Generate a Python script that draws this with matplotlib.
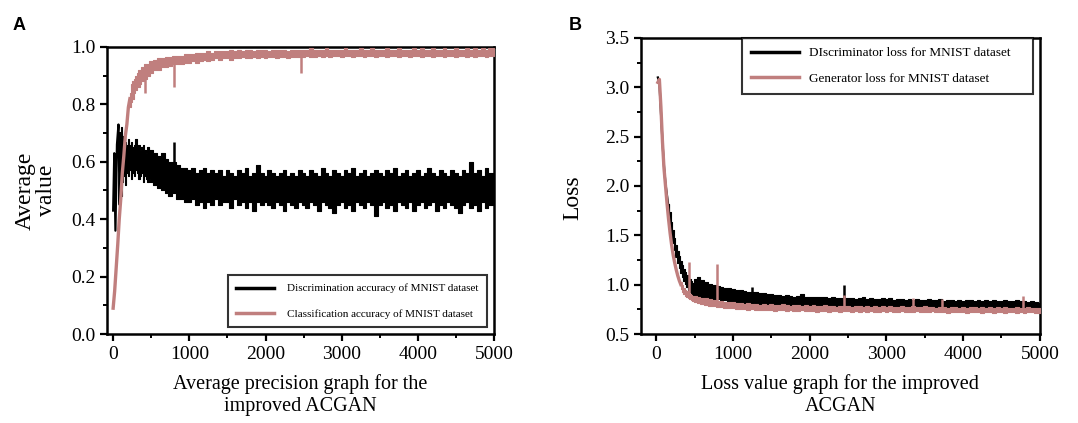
import numpy as np
import matplotlib
matplotlib.use("Agg")
import matplotlib.pyplot as plt
from matplotlib.ticker import MultipleLocator

plt.rcParams['font.family'] = ['Liberation Serif', 'DejaVu Serif']

# Each noisy curve is stored as an early line (x, y), a noise band
# (bin centres, upper edge, lower edge) and a few single spikes,
# all read off the figure.
late_bins = np.arange(500, 5001, 50)

# ---- Panel A: discrimination accuracy (black)
disc_acc_x = [0, 15, 30, 50, 70, 85, 100]
disc_acc_y = [0.43, 0.63, 0.36, 0.66, 0.73, 0.45, 0.70]
disc_acc_bx = np.concatenate([np.arange(100, 500, 20), late_bins])
disc_acc_hi = [
    0.72, 0.66, 0.69, 0.67, 0.66, 0.68, 0.66, 0.67, 0.65, 0.66,
    0.68, 0.65, 0.66, 0.64, 0.65, 0.66, 0.64, 0.63, 0.65, 0.64,
    0.64, 0.63, 0.62, 0.63, 0.61, 0.60, 0.60, 0.59, 0.58, 0.58,
    0.57, 0.58, 0.56, 0.57, 0.58, 0.56, 0.57, 0.56, 0.57, 0.55,
    0.57, 0.56, 0.55, 0.57, 0.56, 0.58, 0.55, 0.56, 0.59, 0.56,
    0.55, 0.57, 0.56, 0.55, 0.56, 0.57, 0.55, 0.56, 0.55, 0.57,
    0.56, 0.55, 0.57, 0.56, 0.55, 0.58, 0.56, 0.55, 0.57, 0.56,
    0.55, 0.57, 0.56, 0.58, 0.55, 0.56, 0.57, 0.55, 0.56, 0.57,
    0.56, 0.55, 0.57, 0.56, 0.58, 0.55, 0.56, 0.57, 0.55, 0.56,
    0.57, 0.55, 0.56, 0.58, 0.56, 0.55, 0.57, 0.56, 0.55, 0.57,
    0.56, 0.55, 0.57, 0.56, 0.60, 0.56, 0.57, 0.55, 0.58, 0.56,
    0.56,
]
disc_acc_lo = [
    0.48, 0.53, 0.55, 0.52, 0.56, 0.55, 0.57, 0.54, 0.56, 0.55,
    0.57, 0.56, 0.54, 0.55, 0.56, 0.53, 0.55, 0.54, 0.53, 0.54,
    0.53, 0.52, 0.51, 0.50, 0.49, 0.48, 0.49, 0.47, 0.47, 0.46,
    0.46, 0.47, 0.45, 0.46, 0.44, 0.46, 0.45, 0.47, 0.45, 0.46,
    0.46, 0.44, 0.47, 0.45, 0.46, 0.44, 0.46, 0.43, 0.46, 0.45,
    0.46, 0.45, 0.44, 0.46, 0.45, 0.43, 0.46, 0.45, 0.44, 0.46,
    0.45, 0.44, 0.46, 0.45, 0.43, 0.46, 0.45, 0.44, 0.42, 0.45,
    0.46, 0.44, 0.45, 0.43, 0.46, 0.45, 0.44, 0.46, 0.45, 0.41,
    0.45, 0.46, 0.44, 0.45, 0.43, 0.46, 0.45, 0.44, 0.46, 0.43,
    0.45, 0.46, 0.44, 0.45, 0.46, 0.43, 0.45, 0.44, 0.46, 0.45,
    0.44, 0.42, 0.45, 0.46, 0.44, 0.45, 0.43, 0.46, 0.44, 0.45,
    0.45,
]
disc_acc_spike_x = [800]
disc_acc_spike_base = [0.59]
disc_acc_spike_tip = [0.67]

# ---- Panel A: classification accuracy (pink)
class_acc_x = [0, 20, 40, 60, 80, 100, 120, 140, 160, 180, 200, 220]
class_acc_y = [0.09, 0.15, 0.23, 0.31, 0.40, 0.47, 0.56, 0.62, 0.69, 0.73,
               0.79, 0.82]
class_acc_bx = np.concatenate([np.arange(220, 500, 20), late_bins])
class_acc_hi = [
    0.84, 0.87, 0.88, 0.89, 0.90, 0.91, 0.92, 0.92, 0.93, 0.93,
    0.94, 0.94, 0.94, 0.95,
    0.95, 0.955, 0.96, 0.96, 0.965, 0.965, 0.97, 0.97, 0.97, 0.975,
    0.975, 0.975, 0.98, 0.98, 0.98, 0.985, 0.98, 0.985, 0.985, 0.985,
    0.985, 0.99, 0.985, 0.99, 0.985, 0.99, 0.99, 0.985, 0.99, 0.99,
    0.99, 0.985, 0.99, 0.99, 0.99, 0.99, 0.985, 0.99, 0.99, 0.99,
    0.99, 0.99, 0.995, 0.99, 0.99, 0.99, 0.995, 0.99, 0.99, 0.99,
    0.99, 0.995, 0.99, 0.99, 0.99, 0.995, 0.99, 0.99, 0.995, 0.99,
    0.99, 0.99, 0.995, 0.99, 0.99, 0.995, 0.99, 0.99, 0.99, 0.995,
    0.99, 0.995, 0.99, 0.99, 0.995, 0.99, 0.99, 0.995, 0.99, 0.99,
    0.995, 0.99, 0.99, 0.995, 0.99, 0.995, 0.99, 0.995, 0.99, 0.995,
    0.995,
]
class_acc_lo = [
    0.79, 0.81, 0.82, 0.84, 0.85, 0.86, 0.86, 0.87, 0.88, 0.88,
    0.89, 0.89, 0.90, 0.90,
    0.91, 0.92, 0.92, 0.93, 0.93, 0.935, 0.94, 0.94, 0.94, 0.945,
    0.945, 0.95, 0.945, 0.95, 0.955, 0.95, 0.955, 0.96, 0.955, 0.96,
    0.96, 0.955, 0.96, 0.96, 0.965, 0.96, 0.96, 0.965, 0.96, 0.965,
    0.96, 0.965, 0.965, 0.96, 0.965, 0.965, 0.96, 0.965, 0.965, 0.965,
    0.965, 0.97, 0.965, 0.965, 0.97, 0.965, 0.97, 0.965, 0.97, 0.97,
    0.965, 0.97, 0.97, 0.965, 0.97, 0.97, 0.965, 0.97, 0.97, 0.965,
    0.97, 0.97, 0.965, 0.97, 0.97, 0.965, 0.97, 0.97, 0.965, 0.97,
    0.97, 0.965, 0.97, 0.97, 0.965, 0.97, 0.97, 0.965, 0.97, 0.97,
    0.965, 0.97, 0.97, 0.965, 0.97, 0.965, 0.97, 0.97, 0.965, 0.97,
    0.97,
]
class_acc_spike_x = [420, 800, 2470]
class_acc_spike_base = [0.90, 0.95, 0.97]
class_acc_spike_tip = [0.84, 0.86, 0.91]

# ---- Panel B: discriminator loss (black)
disc_loss_x = [20, 40, 60, 80, 100, 120, 140, 160]
disc_loss_y = [3.10, 3.05, 2.75, 2.45, 2.20, 2.02, 1.90, 1.78]
disc_loss_bx = np.concatenate([np.arange(160, 500, 20), late_bins])
disc_loss_hi = [
    1.82, 1.74, 1.64, 1.55, 1.47, 1.40, 1.34, 1.29, 1.24, 1.20,
    1.16, 1.13, 1.10, 1.08, 1.06, 1.04, 1.02,
    1.06, 1.08, 1.05, 1.03, 1.01, 1.00, 0.99, 0.98, 0.97, 0.97,
    0.96, 0.95, 0.95, 0.94, 0.93, 0.93, 0.93, 0.92, 0.92, 0.91,
    0.91, 0.90, 0.90, 0.89, 0.90, 0.89, 0.88, 0.89, 0.91, 0.88,
    0.88, 0.87, 0.88, 0.87, 0.87, 0.86, 0.87, 0.86, 0.86, 0.86,
    0.86, 0.86, 0.85, 0.86, 0.87, 0.85, 0.86, 0.85, 0.85, 0.86,
    0.85, 0.86, 0.84, 0.85, 0.85, 0.84, 0.85, 0.84, 0.85, 0.84,
    0.84, 0.85, 0.84, 0.84, 0.85, 0.83, 0.84, 0.84, 0.83, 0.84,
    0.83, 0.84, 0.84, 0.83, 0.84, 0.83, 0.84, 0.83, 0.84, 0.83,
    0.83, 0.84, 0.83, 0.83, 0.84, 0.83, 0.83, 0.82, 0.83, 0.82,
    0.81,
]
disc_loss_lo = [
    1.72, 1.60, 1.50, 1.42, 1.35, 1.28, 1.22, 1.17, 1.12, 1.08,
    1.04, 1.01, 0.98, 0.95, 0.93, 0.92, 0.90,
    0.90, 0.89, 0.88, 0.87, 0.86, 0.85, 0.85, 0.84, 0.84, 0.83,
    0.83, 0.82, 0.82, 0.81, 0.81, 0.81, 0.80, 0.80, 0.80, 0.79,
    0.79, 0.79, 0.79, 0.78, 0.78, 0.78, 0.78, 0.78, 0.77, 0.77,
    0.78, 0.77, 0.77, 0.77, 0.77, 0.77, 0.77, 0.76, 0.77, 0.77,
    0.76, 0.77, 0.76, 0.77, 0.76, 0.76, 0.77, 0.76, 0.76, 0.77,
    0.76, 0.76, 0.77, 0.76, 0.76, 0.76, 0.77, 0.76, 0.76, 0.76,
    0.76, 0.76, 0.75, 0.76, 0.76, 0.76, 0.75, 0.76, 0.76, 0.75,
    0.76, 0.75, 0.76, 0.76, 0.75, 0.76, 0.75, 0.76, 0.75, 0.76,
    0.75, 0.76, 0.75, 0.75, 0.76, 0.75, 0.75, 0.75, 0.76, 0.75,
    0.75,
]
disc_loss_spike_x = [1250, 2450]
disc_loss_spike_base = [0.92, 0.86]
disc_loss_spike_tip = [0.98, 1.00]

# ---- Panel B: generator loss (pink)
gen_loss_x = [20, 40, 60, 80, 100, 120, 140, 160, 180, 200, 220, 240, 260,
              280, 300, 320]
gen_loss_y = [3.05, 3.08, 2.80, 2.45, 2.18, 2.00, 1.82, 1.66, 1.52, 1.40,
              1.30, 1.22, 1.15, 1.09, 1.04, 1.00]
gen_loss_bx = np.concatenate([np.arange(320, 500, 20), late_bins])
gen_loss_hi = [
    1.03, 1.00, 0.97, 0.95, 0.94, 0.92, 0.91, 0.90, 0.89,
    0.89, 0.87, 0.86, 0.86, 0.85, 0.84, 0.83, 0.83, 0.82, 0.82,
    0.82, 0.81, 0.81, 0.80, 0.81, 0.80, 0.80, 0.79, 0.80, 0.79,
    0.80, 0.79, 0.79, 0.80, 0.79, 0.78, 0.79, 0.79, 0.78, 0.79,
    0.78, 0.79, 0.78, 0.78, 0.79, 0.78, 0.78, 0.77, 0.78, 0.78,
    0.78, 0.77, 0.78, 0.78, 0.77, 0.78, 0.77, 0.78, 0.77, 0.78,
    0.77, 0.78, 0.77, 0.77, 0.78, 0.77, 0.77, 0.78, 0.77, 0.77,
    0.78, 0.77, 0.77, 0.76, 0.77, 0.77, 0.76, 0.77, 0.77, 0.76,
    0.77, 0.76, 0.77, 0.77, 0.76, 0.77, 0.76, 0.77, 0.76, 0.77,
    0.76, 0.77, 0.76, 0.76, 0.77, 0.76, 0.76, 0.77, 0.76, 0.76,
    0.76,
]
gen_loss_lo = [
    0.96, 0.93, 0.91, 0.89, 0.87, 0.86, 0.85, 0.84, 0.83,
    0.82, 0.81, 0.80, 0.79, 0.78, 0.78, 0.77, 0.77, 0.76, 0.76,
    0.76, 0.75, 0.75, 0.75, 0.74, 0.75, 0.74, 0.74, 0.74, 0.74,
    0.74, 0.73, 0.74, 0.74, 0.73, 0.74, 0.73, 0.73, 0.74, 0.73,
    0.73, 0.73, 0.72, 0.73, 0.73, 0.72, 0.73, 0.73, 0.72, 0.73,
    0.73, 0.72, 0.73, 0.72, 0.73, 0.72, 0.73, 0.72, 0.72, 0.73,
    0.72, 0.73, 0.72, 0.72, 0.73, 0.72, 0.72, 0.72, 0.73, 0.72,
    0.72, 0.72, 0.73, 0.72, 0.72, 0.72, 0.71, 0.72, 0.72, 0.72,
    0.72, 0.71, 0.72, 0.72, 0.72, 0.71, 0.72, 0.72, 0.71, 0.72,
    0.72, 0.71, 0.72, 0.72, 0.71, 0.72, 0.71, 0.72, 0.72, 0.71,
    0.71,
]
gen_loss_spike_x = [420, 790, 2450, 3350, 3720, 4780]
gen_loss_spike_base = [0.90, 0.80, 0.77, 0.76, 0.76, 0.75]
gen_loss_spike_tip = [1.23, 1.21, 0.90, 0.86, 0.85, 0.89]

pink = '#c07f7e'

fig = plt.figure(figsize=(10.78, 4.23), dpi=100)
ax1 = fig.add_axes([0.0993, 0.2104, 0.359, 0.6785])
ax2 = fig.add_axes([0.5946, 0.2104, 0.370, 0.6998])


def style_axis(ax):
    for s in ax.spines.values():
        s.set_linewidth(1.8)
    ax.tick_params(which='major', direction='out', length=5, width=1.6,
                   labelsize=14, top=False, right=False)
    ax.tick_params(which='minor', direction='out', length=3, width=1.4,
                   top=False, right=False)
    ax.xaxis.set_major_locator(MultipleLocator(1000))
    ax.xaxis.set_minor_locator(MultipleLocator(500))


def draw_curve(ax, x, y, bx, hi, lo, sx, sbase, stip, color, lw, label, z):
    ax.plot(x, y, color=color, lw=lw, label=label, zorder=z)
    ax.fill_between(bx, lo, hi, step='mid', color=color, lw=0.8,
                    edgecolor=color, zorder=z)
    ax.vlines(sx, sbase, stip, color=color, lw=1.8, zorder=z)


def style_legend(leg):
    leg.get_frame().set_linewidth(1.5)
    for h in leg.get_lines():
        h.set_linewidth(2.5)


# Panel A
draw_curve(ax1, disc_acc_x, disc_acc_y, disc_acc_bx, disc_acc_hi, disc_acc_lo,
           disc_acc_spike_x, disc_acc_spike_base, disc_acc_spike_tip,
           'black', 1.6, 'Discrimination accuracy of MNIST dataset', 2)
draw_curve(ax1, class_acc_x, class_acc_y, class_acc_bx, class_acc_hi,
           class_acc_lo, class_acc_spike_x, class_acc_spike_base,
           class_acc_spike_tip, pink, 2.4,
           'Classification accuracy of MNIST dataset', 3)
ax1.set_xlim(-80, 5000)
ax1.set_ylim(0, 1.0)
style_axis(ax1)
ax1.yaxis.set_major_locator(MultipleLocator(0.2))
ax1.yaxis.set_minor_locator(MultipleLocator(0.1))
ax1.set_ylabel('Average\nvalue', fontsize=17, linespacing=1.0)
ax1.yaxis.set_label_coords(-0.13, 0.5)
ax1.set_xlabel('Average precision graph for the\nimproved ACGAN', fontsize=14.5,
               labelpad=8)
leg1 = ax1.legend(loc='lower right', bbox_to_anchor=(0.982, 0.024), fontsize=8,
                  frameon=True, fancybox=False, edgecolor='black',
                  handlelength=3.4, handletextpad=1.2, borderpad=0.75,
                  labelspacing=1.4, borderaxespad=0)
style_legend(leg1)

# Panel B
draw_curve(ax2, disc_loss_x, disc_loss_y, disc_loss_bx, disc_loss_hi,
           disc_loss_lo, disc_loss_spike_x, disc_loss_spike_base,
           disc_loss_spike_tip, 'black', 1.6,
           'DIscriminator loss for MNIST dataset', 2)
draw_curve(ax2, gen_loss_x, gen_loss_y, gen_loss_bx, gen_loss_hi, gen_loss_lo,
           gen_loss_spike_x, gen_loss_spike_base, gen_loss_spike_tip,
           pink, 2.4, 'Generator loss for MNIST dataset', 3)
ax2.set_xlim(-200, 5000)
ax2.set_ylim(0.5, 3.5)
style_axis(ax2)
ax2.yaxis.set_major_locator(MultipleLocator(0.5))
ax2.yaxis.set_minor_locator(MultipleLocator(0.25))
ax2.set_ylabel('Loss', fontsize=17)
ax2.yaxis.set_label_coords(-0.145, 0.46)
ax2.set_xlabel('Loss value graph for the improved\nACGAN', fontsize=14.5,
               labelpad=8)
leg2 = ax2.legend(loc='upper left', bbox_to_anchor=(0.253, 1.0, 0.729, 0.0),
                  mode='expand', fontsize=9.5,
                  frameon=True, fancybox=False, edgecolor='black',
                  handlelength=3.6, handletextpad=0.75, borderpad=0.7,
                  labelspacing=1.0, borderaxespad=0)
style_legend(leg2)

fig.text(0.012, 0.93, 'A', fontsize=13, fontweight='bold',
         family='Liberation Sans')
fig.text(0.528, 0.93, 'B', fontsize=13, fontweight='bold',
         family='Liberation Sans')

fig.savefig('out.png', dpi=100)
